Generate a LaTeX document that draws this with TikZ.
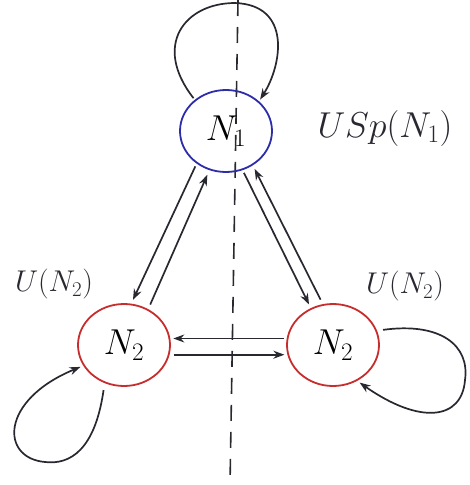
\documentclass[tikz,border=0pt]{standalone}
\usepackage{fix-cm}
\usetikzlibrary{shapes.geometric,arrows.meta,calc}
\definecolor{ink}{RGB}{40,40,48}
\definecolor{bluec}{RGB}{45,45,170}
\definecolor{redc}{RGB}{200,45,45}
\begin{document}
\begin{tikzpicture}[x=1pt,y=-1pt,
  gnode/.style={ellipse,draw,line width=1.8pt,minimum width=92pt,minimum height=82pt,inner sep=0pt,font=\fontsize{36}{40}\selectfont},
  edge/.style={draw=ink,line width=1.7pt,-{Stealth[length=11pt,width=8pt]}},
  lab/.style={font=\fontsize{30}{34}\selectfont,text=ink}]
\useasboundingbox (0,0) rectangle (470,485);
% symmetry axis
\draw[ink,line width=1.6pt,dash pattern=on 16pt off 11pt] (238,0) -- (230,485);
% nodes
\node[gnode,draw=bluec] (N1) at (226,131) {$N_1$};
\node[gnode,draw=redc] (L) at (124,345) {$N_2$};
\node[gnode,draw=redc] (R) at (333,345) {$N_2$};
% labels
\node[lab,font=\fontsize{36}{40}\selectfont] (uspl) at (385,128) {$USp(N_1)$};
\node[lab] (ull) at (54,284) {$U(N_2)$};
\node[lab] (url) at (405,286) {$U(N_2)$};
% edges N1 - L
\draw[edge,shorten <=3pt,shorten >=4pt] (N1.228) -- (L.80);
\draw[edge,shorten <=5pt,shorten >=5pt] (L.56) -- (N1.247);
% edges N1 - R
\draw[edge,shorten <=3pt,shorten >=4pt] (N1.293) -- (R.121);
\draw[edge,shorten <=5pt,shorten >=4pt] (R.104) -- (N1.308);
% horizontal edges
\draw[edge,shorten <=3pt,shorten >=3pt] (R.172) -- (L.8);
\draw[edge,shorten <=4pt,shorten >=3pt] (L.348) -- (R.192);
% loops
\draw[edge,shorten <=2pt,shorten >=2pt] (N1.135) .. controls (152,45) and (185,3) .. (235,3) .. controls (292,5) and (282,65) .. (N1.42);
\draw[edge,shorten <=7pt,shorten >=3pt] (L.243) .. controls (95,450) and (70,465) .. (45,462) .. controls (0,458) and (0,400) .. (L.207);
\draw[edge,shorten <=6pt,shorten >=3pt] (R.18) .. controls (440,322) and (470,345) .. (465,380) .. controls (462,420) and (420,425) .. (R.304);
\end{tikzpicture}
\end{document}
